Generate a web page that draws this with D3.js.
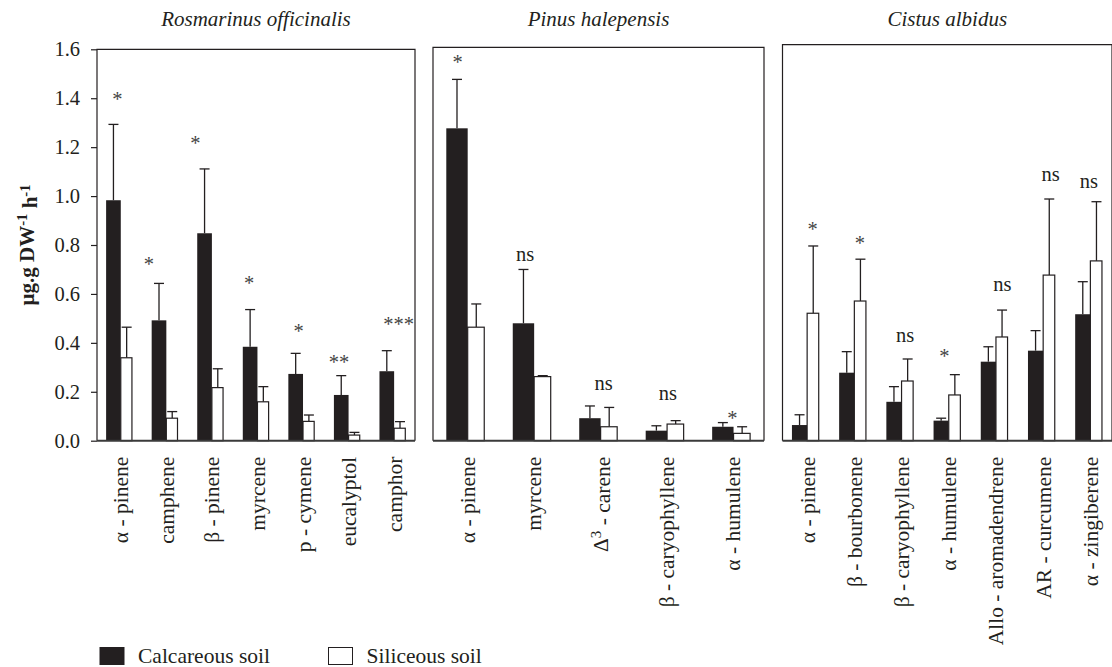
<!DOCTYPE html>
<html>
<head>
<meta charset="utf-8">
<script src="https://cdn.jsdelivr.net/npm/d3@7"></script>
<style>
  body { margin: 0; background: #fff; }
  svg { display: block; font-family: "Liberation Serif", "Times New Roman", serif; }
</style>
</head>
<body>
<svg id="chart" width="1112" height="667"></svg>
<script>
// ---- data (µg.g DW-1 h-1), error = standard error ----
const species = ['Rosmarinus officinalis', 'Pinus halepensis', 'Cistus albidus']
const soils = ['Calcareous soil', 'Siliceous soil']

const ros_compounds = ['α - pinene', 'camphene', 'β - pinene', 'myrcene', 'p - cymene', 'eucalyptol', 'camphor']
const ros_calc = [0.983, 0.492, 0.848, 0.384, 0.273, 0.187, 0.284]
const ros_calc_se = [0.310, 0.151, 0.263, 0.152, 0.084, 0.079, 0.084]
const ros_sil = [0.339, 0.092, 0.217, 0.159, 0.079, 0.023, 0.051]
const ros_sil_se = [0.125, 0.027, 0.077, 0.062, 0.026, 0.011, 0.027]
const ros_sig = ['*', '*', '*', '*', '*', '**', '***']
const ros_sig_at = [1.407, 0.732, 1.229, 0.657, 0.460, 0.333, 0.489]

const pin_compounds = ['α - pinene', 'myrcene', 'Δ^3 - carene', 'β - caryophyllene', 'α - humulene']
const pin_calc = [1.277, 0.480, 0.092, 0.041, 0.057]
const pin_calc_se = [0.200, 0.220, 0.050, 0.020, 0.017]
const pin_sil = [0.464, 0.262, 0.057, 0.068, 0.030]
const pin_sil_se = [0.095, 0.004, 0.079, 0.014, 0.027]
const pin_sig = ['*', 'ns', 'ns', 'ns', '*']
const pin_sig_at = [1.559, 0.752, 0.228, 0.184, 0.105]

const cis_compounds = ['α - pinene', 'β - bourbonene', 'β - caryophyllene', 'α - humulene',
                       'Allo - aromadendrene', 'AR - curcumene', 'α - zingiberene']
const cis_calc = [0.064, 0.278, 0.159, 0.082, 0.323, 0.368, 0.517]
const cis_calc_se = [0.042, 0.086, 0.062, 0.010, 0.061, 0.082, 0.133]
const cis_sil = [0.521, 0.571, 0.244, 0.187, 0.424, 0.677, 0.735]
const cis_sil_se = [0.275, 0.171, 0.090, 0.083, 0.110, 0.311, 0.242]
const cis_sig = ['*', '*', 'ns', '*', 'ns', 'ns', 'ns']
const cis_sig_at = [0.875, 0.820, 0.421, 0.357, 0.632, 1.079, 1.052]

const y_ticks = [0, 0.2, 0.4, 0.6, 0.8, 1.0, 1.2, 1.4, 1.6]

// ---- layout ----
const ink = '#231f20'
const font_size = 21.5
const y_bottom = 440.7, y_top = 49.3
const panels = [
    {x0: 97, x1: 415, top: 49.3, nudge: [-2, -16, -15, -7, -3, -8, 6],
     compounds: ros_compounds, calc: ros_calc, calc_se: ros_calc_se, sil: ros_sil, sil_se: ros_sil_se, sig: ros_sig, sig_at: ros_sig_at},
    {x0: 433, x1: 764, top: 47.3, nudge: [-8, -7, 5, 3, 1],
     compounds: pin_compounds, calc: pin_calc, calc_se: pin_calc_se, sil: pin_sil, sil_se: pin_sil_se, sig: pin_sig, sig_at: pin_sig_at},
    {x0: 782.5, x1: 1112, top: 44.7, nudge: [7, 7, 5, -3, 8, 9, 0],
     compounds: cis_compounds, calc: cis_calc, calc_se: cis_calc_se, sil: cis_sil, sil_se: cis_sil_se, sig: cis_sig, sig_at: cis_sig_at},
]

const svg = d3.select('#chart')
const y = d3.scaleLinear([0, 1.6], [y_bottom, y_top])

function add_label_text(sel, label) {
    // "Δ^3 - carene" -> Δ, superscript 3, rest
    const parts = label.split('^')
    if (parts.length == 1) {
        sel.text(label)
        return
    }
    sel.append('tspan').text(parts[0])
    sel.append('tspan').attr('dy', '-0.45em').attr('font-size', '0.7em').text(parts[1][0])
    sel.append('tspan').attr('dy', '0.45em').text(parts[1].slice(1))
}

function draw_panel(p, i) {
    const g = svg.append('g')
    const x = d3.scaleBand(d3.range(p.compounds.length), [p.x0, p.x1])
                .paddingInner(0.42).paddingOuter(0.2)
    const bw = x.bandwidth()
    const calc_w = bw * 0.555
    const sil_w = bw - calc_w
    const I = d3.range(p.compounds.length)

    // frame (top, left, right), bottom axis drawn thicker
    g.append('path')
     .attr('d', `M${p.x0},${y_bottom}V${p.top}H${p.x1}V${y_bottom}`)
     .attr('fill', 'none').attr('stroke', ink).attr('stroke-width', 1.2)

    // error bars go behind the bars
    const err = (vals, ses, cx) => {
        const eg = g.append('g').attr('stroke', ink).attr('stroke-width', 1.3)
        eg.selectAll('line.v').data(I).join('line').attr('class', 'v')
          .attr('x1', cx).attr('x2', cx)
          .attr('y1', j => y(vals[j])).attr('y2', j => y(vals[j] + ses[j]))
        eg.selectAll('line.h').data(I).join('line').attr('class', 'h')
          .attr('x1', j => cx(j) - 5).attr('x2', j => cx(j) + 5)
          .attr('y1', j => y(vals[j] + ses[j])).attr('y2', j => y(vals[j] + ses[j]))
    }
    err(p.calc, p.calc_se, j => x(j) + calc_w / 2)
    err(p.sil, p.sil_se, j => x(j) + calc_w + sil_w / 2)

    g.append('g').selectAll('rect').data(I).join('rect')
     .attr('x', j => x(j)).attr('width', calc_w)
     .attr('y', j => y(p.calc[j])).attr('height', j => y(0) - y(p.calc[j]))
     .attr('fill', ink)
    g.append('g').selectAll('rect').data(I).join('rect')
     .attr('x', j => x(j) + calc_w).attr('width', sil_w - 0.6)
     .attr('y', j => y(p.sil[j])).attr('height', j => y(0) - y(p.sil[j]))
     .attr('fill', '#fff').attr('stroke', ink).attr('stroke-width', 1.2)

    g.append('line')
     .attr('x1', p.x0).attr('x2', p.x1).attr('y1', y_bottom).attr('y2', y_bottom)
     .attr('stroke', '#3a3a3a').attr('stroke-width', 2)

    // significance marks
    g.append('g').selectAll('text').data(I).join('text')
     .attr('x', j => x(j) + bw / 2 + p.nudge[j])
     .attr('y', j => y(p.sig_at[j]) + (p.sig[j] == 'ns' ? 0.23 : 0.47) * 20.5)
     .attr('text-anchor', 'middle')
     .attr('font-size', 20.5)
     .attr('fill', j => p.sig[j] == 'ns' ? ink : '#444')
     .text(j => p.sig[j])

    // rotated compound names
    g.append('g').selectAll('text').data(I).join('text')
     .attr('transform', j => `translate(${x(j) + bw / 2},${y_bottom + 16}) rotate(-90)`)
     .attr('dy', '0.42em')
     .attr('text-anchor', 'end')
     .attr('font-size', font_size)
     .attr('fill', ink)
     .each(function(j) { add_label_text(d3.select(this), p.compounds[j]) })

    // species title
    svg.append('text')
       .attr('x', (p.x0 + Math.min(p.x1, 1112)) / 2).attr('y', 26)
       .attr('text-anchor', 'middle')
       .attr('font-size', 21).attr('font-style', 'italic')
       .attr('fill', ink)
       .text(species[i])
}

panels.forEach(draw_panel)

// y axis only on the first panel
const y_axis = d3.axisLeft(y).tickValues(y_ticks).tickFormat(d3.format('.1f'))
                 .tickSize(6).tickPadding(11)
svg.append('g')
   .attr('transform', `translate(${panels[0].x0},0)`)
   .call(y_axis)
   .call(a => a.select('.domain').remove())
   .call(a => a.selectAll('line').attr('stroke', ink).attr('stroke-width', 1.2))
   .call(a => a.selectAll('text').attr('font-size', 20.5).attr('fill', ink)
               .attr('font-family', '"Liberation Serif", "Times New Roman", serif'))

const y_label = svg.append('text')
   .attr('transform', `translate(34,${(y_bottom + y_top) / 2}) rotate(-90)`)
   .attr('text-anchor', 'middle')
   .attr('font-size', 21).attr('font-weight', 'bold')
   .attr('fill', ink)
y_label.append('tspan').text('µg.g DW')
y_label.append('tspan').attr('dy', '-0.45em').attr('font-size', '0.7em').text('-1')
y_label.append('tspan').attr('dy', '0.45em').text(' h')
y_label.append('tspan').attr('dy', '-0.45em').attr('font-size', '0.7em').text('-1')

// legend
const legend = svg.append('g').attr('font-size', font_size).attr('fill', ink)
const legend_x = [100, 328.5]
soils.forEach((s, k) => {
    legend.append('rect')
          .attr('x', legend_x[k]).attr('y', 647.5).attr('width', 24).attr('height', 17)
          .attr('fill', k == 0 ? ink : '#fff').attr('stroke', ink).attr('stroke-width', 1)
    legend.append('text')
          .attr('x', legend_x[k] + 38).attr('y', 663)
          .text(s)
})
</script>
</body>
</html>
